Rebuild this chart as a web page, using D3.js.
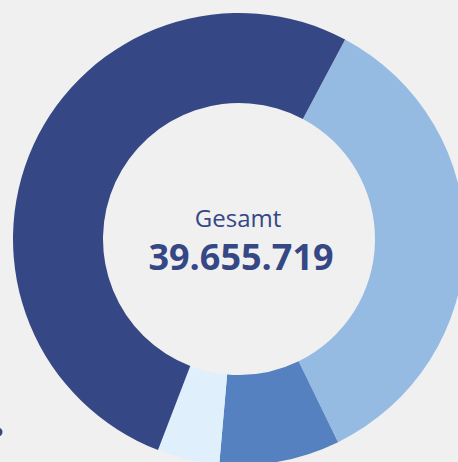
<!DOCTYPE html>
<html>
<head>
<meta charset="utf-8">
<script src="https://cdn.jsdelivr.net/npm/d3@7"></script>
<style>
  html, body { margin: 0; padding: 0; background: #f0f0f0; overflow: hidden; }
  svg { display: block; }
</style>
</head>
<body>
<svg id="chart" width="458" height="462"></svg>
<script>
// slices, clockwise starting at the top-right boundary
const categories = ["Kategorie B", "Kategorie C", "Kategorie D", "Kategorie A"];
const values = [13880000, 3415000, 1762000, 20598719];
const colors = ["#96bbe3", "#5581c0", "#dff0fc", "#354784"];
const centerLabel = "Gesamt";
const totalLabel = "39.655.719";

const width = 458, height = 462;
const cx = 239, cy = 239;
const outerR = 226, innerR = 136;
const start = 28 * Math.PI / 180;

const svg = d3.select("#chart");
const g = svg.append("g").attr("transform", `translate(${cx}, ${cy})`);

const pie = d3.pie()
  .sort(null)
  .value((d) => d.value)
  .startAngle(start)
  .endAngle(start + 2 * Math.PI);

const arc = d3.arc().innerRadius(innerR).outerRadius(outerR);

const data = categories.map((c, i) => ({ name: c, value: values[i], color: colors[i] }));

g.selectAll("path")
  .data(pie(data))
  .enter()
  .append("path")
  .attr("d", arc)
  .attr("fill", (d) => d.data.color);

g.append("text")
  .attr("x", -1)
  .attr("y", -12)
  .attr("text-anchor", "middle")
  .style("font-family", "'Open Sans', 'Noto Sans', sans-serif")
  .style("font-size", "24px")
  .style("fill", "#354784")
  .text(centerLabel);

g.append("text")
  .attr("x", 2)
  .attr("y", 31)
  .attr("text-anchor", "middle")
  .style("font-family", "'Open Sans', 'Noto Sans', sans-serif")
  .style("font-size", "36px")
  .style("font-weight", "bold")
  .style("fill", "#354784")
  .text(totalLabel);

// legend marker, mostly off the left edge
svg.append("circle")
  .attr("cx", -2)
  .attr("cy", 432)
  .attr("r", 4.5)
  .attr("fill", colors[3]);
</script>
</body>
</html>
